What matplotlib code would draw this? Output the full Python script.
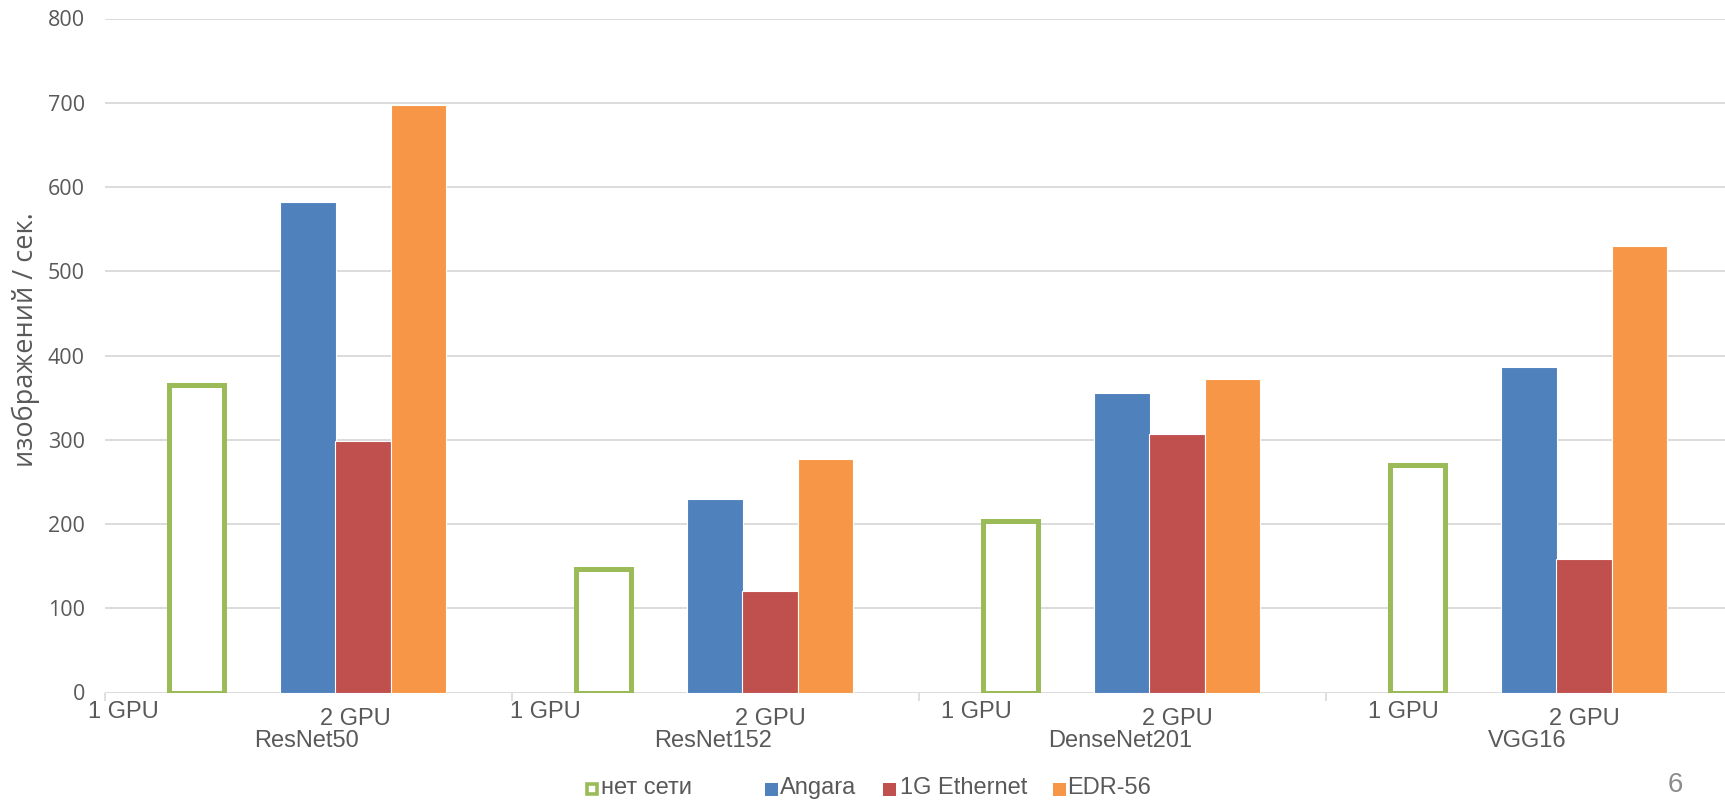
import matplotlib
matplotlib.use('Agg')
import matplotlib.pyplot as plt
import matplotlib.transforms as mtransforms
from matplotlib.patches import Rectangle
import numpy as np

# данные
models = ['ResNet50', 'ResNet152', 'DenseNet201', 'VGG16']
gpu_labels = ['1 GPU', '2 GPU']
series = ['нет сети', 'Angara', '1G Ethernet', 'EDR-56']
no_net = [365, 147, 203, 270]      # 1 GPU
angara = [582, 230, 355, 386]      # 2 GPU
ethernet = [299, 121, 307, 158]
edr56 = [697, 277, 372, 530]

colors = ['#9BBB59', '#4F81BD', '#C0504D', '#F79646']
text_col = '#595959'
grid_col = '#D9D9D9'

W, H = 1725, 801
fig = plt.figure(figsize=(W / 100, H / 100), dpi=100)
# ось растянута чуть за правый край, как в исходнике
ax = fig.add_axes([105 / W, (H - 692.5) / H, 1628 / W, 674 / H])

x = np.arange(len(models))
bw = 0.136
# смещения столбиков внутри группы (доля ширины группы)
offs = [0.225, 0.499, 0.634, 0.771]

ax.bar(x + offs[0], no_net, bw, facecolor='white', edgecolor=colors[0],
       linewidth=3.6, zorder=3)
for vals, off, c in zip([angara, ethernet, edr56], offs[1:], colors[1:]):
    ax.bar(x + off, vals, bw, color=c, edgecolor='white', linewidth=0.8, zorder=3)

ax.set_xlim(0, 4)
ax.set_ylim(0, 800)
ax.set_yticks(range(0, 801, 100))
ax.yaxis.grid(True, color=grid_col, linewidth=1.3, zorder=0)
ax.set_axisbelow(True)
for s in ax.spines.values():
    s.set_visible(False)
ax.tick_params(axis='y', length=0, pad=14.5, labelsize=15.5, labelcolor=text_col)
for t in ax.get_yticklabels():
    t.set_fontfamily('Open Sans')
ax.set_xticks([0, 1, 2, 3, 4])
ax.set_xticklabels([])
ax.tick_params(axis='x', length=6, width=1.2, color=grid_col, direction='out')

fig.text(26 / W, (H - 340) / H, 'изображений / сек.', fontsize=19.5, color=text_col,
         family='Open Sans', rotation=90, ha='center', va='center',
         rotation_mode='anchor')

# подписи категорий (двухуровневая ось, как в Excel)
tr = mtransforms.blended_transform_factory(ax.transData, fig.transFigure)
gpu1_pos = [0.044, 0.083, 0.142, 0.189]
gpu2_pos = [0.614, 0.636, 0.634, 0.636]
lab_font = dict(fontsize=17, color=text_col, family='Liberation Sans',
                ha='center', va='center', transform=tr)
for i, m in enumerate(models):
    ax.text(i + gpu1_pos[i], (H - 712) / H, gpu_labels[0], **lab_font)
    ax.text(i + gpu2_pos[i], (H - 719) / H, gpu_labels[1], **lab_font)
    ax.text(i + 0.495, (H - 741) / H, m, **lab_font)

# легенда
leg_sq = [592, 771.5, 889.5, 1059]
leg_tx = [601, 780, 900, 1067]
for i, name in enumerate(series):
    sq = 13
    if i == 0:
        fig.patches.append(Rectangle(((leg_sq[i] - sq / 2 + 1.5) / W, (H - 789 - sq / 2 + 1.5) / H),
                                     (sq - 3) / W, (sq - 3) / H, transform=fig.transFigure,
                                     facecolor='white', edgecolor=colors[0], linewidth=2.6))
    else:
        fig.patches.append(Rectangle(((leg_sq[i] - sq / 2) / W, (H - 789 - sq / 2) / H),
                                     sq / W, sq / H, transform=fig.transFigure,
                                     facecolor=colors[i], edgecolor='none'))
    fig.text(leg_tx[i] / W, (H - 794) / H, name, fontsize=17, color=text_col,
             family='Liberation Sans', ha='left', va='baseline')

# номер слайда
fig.text(1675 / W, (H - 798) / H, '6', fontsize=20, color='#8C8C8C',
         family='Liberation Sans', ha='center', va='bottom')

fig.savefig('out.png', dpi=100, facecolor='white')
